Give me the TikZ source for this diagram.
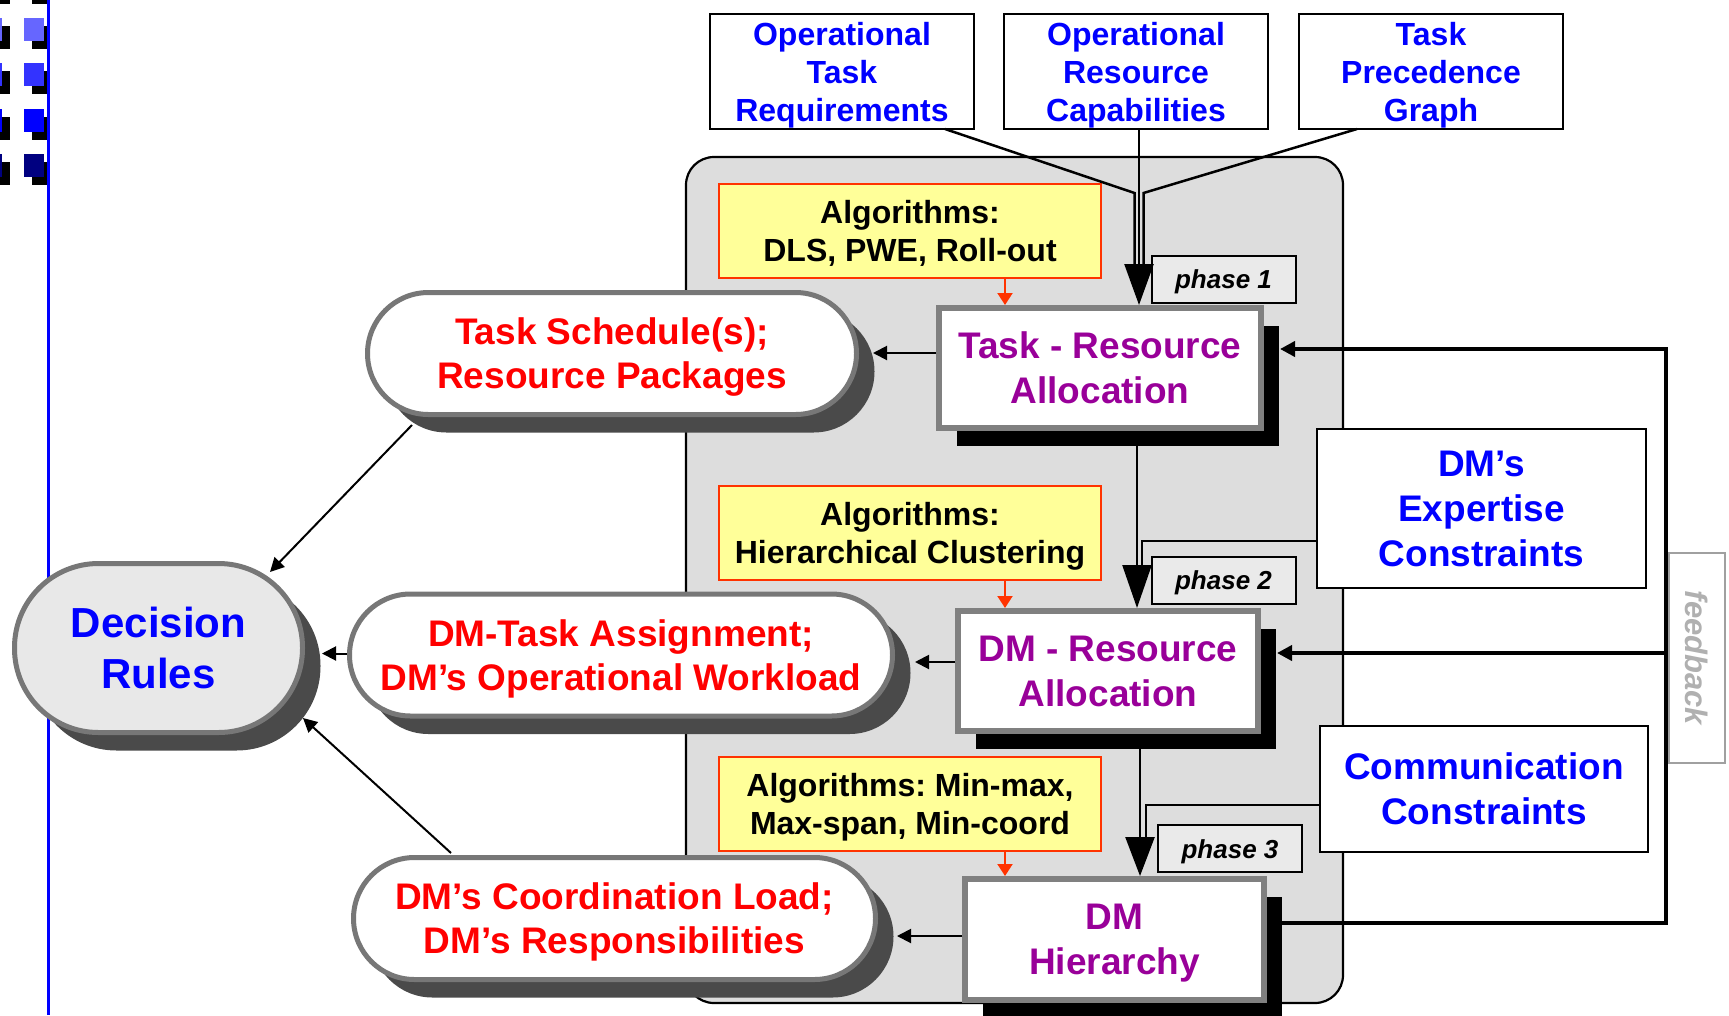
\documentclass[tikz,border=0pt]{standalone}
\usepackage{fontspec}
\setmainfont{Liberation Sans}
\usetikzlibrary{arrows.meta,shadows,calc}
\frenchspacing

\definecolor{panelgrey}{HTML}{DDDDDD}
\definecolor{stagepurple}{HTML}{990099}
\definecolor{algyellow}{HTML}{FFFF99}
\definecolor{algedge}{HTML}{FF3300}
\definecolor{framegrey}{HTML}{808080}
\definecolor{ovaledge}{HTML}{777777}
\definecolor{ovalshadow}{HTML}{4A4A4A}
\definecolor{phasefill}{HTML}{EAEAEA}
\definecolor{rulesfill}{HTML}{E8E8E8}
\definecolor{fbgrey}{HTML}{B0B0B0}
\definecolor{fbedge}{HTML}{A0A0A0}
\definecolor{sqA}{HTML}{6666FF}
\definecolor{sqB}{HTML}{3333FF}
\definecolor{sqC}{HTML}{0000FF}
\definecolor{sqD}{HTML}{000080}

\newcommand\fsz[2]{\fontsize{#1}{#2}\selectfont}

\begin{document}
\begin{tikzpicture}[x=1pt,y=-1pt,
  every node/.style={align=center, inner sep=0pt, outer sep=0pt},
  % one-line labels: fixed ascent and descent
  oneline/.style={execute at begin node={\rule{0pt}{1em}},
    execute at end node={\rule[-0.27em]{0pt}{0.27em}}},
  % stacked lines: ignore descenders of the last line
  mlines/.style={text depth=-2pt},
  inbox/.style={draw=black, line width=2.5pt, fill=white, text=blue, mlines,
    font=\bfseries\fsz{32}{38}, minimum width=264pt, minimum height=115pt},
  algbox/.style={draw=algedge, line width=2pt, fill=algyellow, text=black, mlines,
    font=\bfseries\fsz{32}{38}, minimum width=382pt, minimum height=94pt},
  stage/.style={draw=framegrey, line width=6pt, fill=white, text=stagepurple, mlines,
    font=\bfseries\fsz{37}{45}, minimum width=#1, minimum height=120pt,
    outer sep=3pt,
    drop shadow={shadow xshift=18pt, shadow yshift=-18pt, fill=black, opacity=1}},
  outcome/.style={draw=ovaledge, line width=5pt, fill=white, text=red, mlines,
    font=\bfseries\fsz{37}{44}, minimum width=#1, minimum height=122pt,
    rounded corners=61pt, outer sep=2.5pt,
    drop shadow={shadow xshift=18pt, shadow yshift=-18pt, fill=ovalshadow, opacity=1}},
  phasetag/.style={draw=black, line width=2pt, fill=phasefill, text=black, oneline,
    font=\bfseries\itshape\fsz{26}{30}, minimum width=144pt, minimum height=47pt},
  constraintbox/.style={draw=black, line width=2pt, fill=white, text=blue, mlines,
    font=\bfseries\fsz{37}{45}},
  flow/.style={line width=2.5pt},
  link/.style={line width=2pt, -{Triangle[length=14pt,width=14pt]}},
  fback/.style={line width=4pt},
  fbtip/.style={-{Triangle[length=15pt,width=15pt]}},
  algtip/.style={draw=algedge, line width=2pt, -{Triangle[length=12pt,width=15pt]}},
]
\useasboundingbox (0,0) rectangle (1729,1015);
\clip (0,0) rectangle (1729,1015);

% decorative squares along the left margin
\begin{scope}
  \clip (-40,-40) rectangle (48,300);
  \foreach \yy/\cc in {-27/sqA, 18/sqA, 63/sqB, 109/sqC, 154/sqD} {
    \foreach \xx in {-18,24} {
      \fill[black] (\xx+8,\yy+8) rectangle ++(20,23);
      \fill[\cc] (\xx,\yy) rectangle ++(20,23);
    }
  }
\end{scope}
\draw[blue, line width=2.5pt] (48.5,0) -- (48.5,1015);

% grey panel holding the three phases
\draw[fill=panelgrey, line width=2.2pt, rounded corners=28pt] (686,157) rectangle (1343,1003);

% inputs
\node[inbox] (req)  at (842,71.5)  {Operational\\Task\\Requirements};
\node[inbox] (cap)  at (1136,71.5) {Operational\\Resource\\Capabilities};
\node[inbox] (prec) at (1431,71.5) {Task\\Precedence\\Graph};

% decision rules
\node[draw=ovaledge, line width=5pt, fill=rulesfill, text=blue, mlines,
      font=\bfseries\fsz{42}{51}, minimum width=288pt, minimum height=169pt,
      rounded corners=84pt, outer sep=2.5pt,
      drop shadow={shadow xshift=18pt, shadow yshift=-18pt, fill=ovalshadow, opacity=1}]
      (rules) at (158.5,648) {Decision\\Rules};

% outputs of each phase
\node[outcome=489pt] (sched)  at (612,353.5)   {Task Schedule(s);\\Resource Packages};
\node[outcome=543pt] (assign) at (621,655)     {DM-Task Assignment;\\DM’s Operational Workload};
\node[outcome=522pt] (coord)  at (614.5,918.5) {DM’s Coordination Load;\\DM’s Responsibilities};

% algorithms
\node[algbox] (alg1) at (910,231)   {Algorithms:\\DLS, PWE, Roll-out};
\node[algbox] (alg2) at (910,532.5) {Algorithms:\\Hierarchical Clustering};
\node[algbox] (alg3) at (910,803.5) {Algorithms: Min-max,\\Max-span, Min-coord};

% phase tags
\node[phasetag] (ph1) at (1223.5,279)   {phase 1};
\node[phasetag] (ph2) at (1223.5,580.5) {phase 2};
\node[phasetag] (ph3) at (1230,848.5)   {phase 3};

% phases
\node[stage=322pt] (tr) at (1100,368) {Task - Resource\\Allocation};
\node[stage=300pt] (dr) at (1108,671) {DM - Resource\\Allocation};
\node[stage=299pt, minimum height=121pt] (dh) at (1114.5,939.5) {DM\\Hierarchy};

% constraints and feedback
\node[constraintbox, minimum width=329pt, minimum height=159pt] (exp)  at (1481.5,508.5) {DM’s\\Expertise\\Constraints};
\node[constraintbox, minimum width=328pt, minimum height=126pt] (comm) at (1484,789) {Communication\\Constraints};

% helper coordinates
\coordinate (sh1) at (1139,0);
\coordinate (sh2) at (1137,0);
\coordinate (sh3) at (1140,0);
\coordinate (ax)  at (1005,0);
\coordinate (jl) at (1134.5,193);
\coordinate (jr) at (1143.5,193);
\coordinate (sl) at (1134.5,272);
\coordinate (sr) at (1143.5,272);
\coordinate (e1) at (1142,541);
\coordinate (e2) at (1142,585);
\coordinate (c1) at (1146,805);
\coordinate (c2) at (1146,852);
\coordinate (fbLow) at (1666,923);
\coordinate (fbTop) at (1666,349);
\coordinate (fbMid) at (1666,653);
\coordinate (dhOut) at (1282,923);
\coordinate (trIn)  at (1280,349);
\coordinate (drIn)  at (1277,653);
\coordinate (o1in) at (873,353);
\coordinate (o2in) at (915,662);
\coordinate (o3in) at (897,936);
\coordinate (r1s) at (412,425);
\coordinate (r1e) at (270,572);
\coordinate (r2e) at (322,653.5);
\coordinate (r3s) at (451,853);
\coordinate (r3e) at (303,718);

% inputs into phase 1
\draw[flow] ([xshift=103pt]req.south) -- (jl) -- (sl);
\draw[flow] ([xshift=-74pt]prec.south) -- (jr) -- (sr);
\draw[flow, -{Triangle[length=41pt,width=29pt]}] (cap.south -| sh1) -- (tr.north -| sh1);

% phase 1 -> phase 2 with expertise constraints
\draw[line width=2.2pt] (exp.west |- e1) -- (e1) -- (e2);
\draw[flow, -{Triangle[length=43pt,width=29pt]}] (tr.south -| sh2) -- (dr.north -| sh2);

% phase 2 -> phase 3 with communication constraints
\draw[line width=2.2pt] (comm.west |- c1) -- (c1) -- (c2);
\draw[flow, -{Triangle[length=39pt,width=29pt]}] (dr.south -| sh3) -- (dh.north -| sh3);

% algorithms feeding the phases
\draw[algtip] (alg1.south -| ax) -- (tr.north -| ax);
\draw[algtip] (alg2.south -| ax) -- (dr.north -| ax);
\draw[algtip] (alg3.south -| ax) -- (dh.north -| ax);

% feedback loop
\draw[fback, fbtip] (dhOut) -- (fbLow) -- (fbTop) -- (trIn);
\draw[fback, fbtip] (fbMid) -- (drIn);
\node[draw=fbedge, line width=2pt, fill=white, rotate=-90, minimum width=210pt,
      minimum height=56pt, text=fbgrey, oneline, font=\bfseries\itshape\fsz{31}{36}]
      (fbbox) at (1697,658) {feedback};

% phase outputs
\draw[link] (tr.west |- o1in) -- (o1in);
\draw[link] (dr.west |- o2in) -- (o2in);
\draw[link] (dh.west |- o3in) -- (o3in);

% outputs into decision rules
\draw[link] (r1s) -- (r1e);
\draw[link] (assign.west |- r2e) -- (r2e);
\draw[link] (r3s) -- (r3e);
\end{tikzpicture}
\end{document}
